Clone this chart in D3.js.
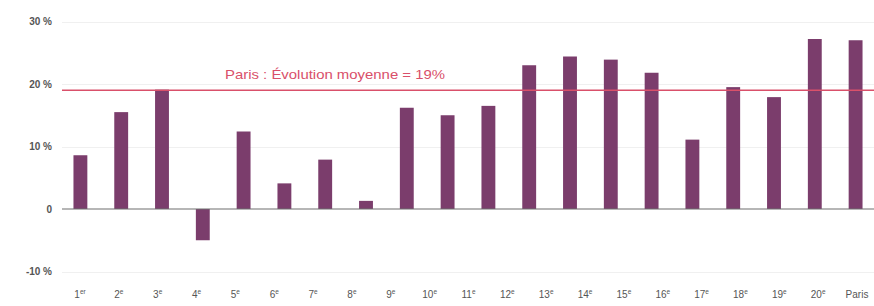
<!DOCTYPE html>
<html lang="fr">
  <head>
    <meta charset="utf-8">
    <title>Évolution par arrondissement</title>
    <style>
      body { margin: 0; background: #fff; }
      svg text { font-family: "Liberation Sans Narrow", "Liberation Sans", Arial, sans-serif; }
      .ytick { fill: #555; font-size: 10px; font-weight: bold; }
      .xtick { fill: #555; font-size: 10px; }
      .grid line { stroke: #f0f0f0; stroke-width: 1; }
    </style>
  </head>
  <body>
    <svg id="chart" width="874" height="306"></svg>
<script src="https://d3js.org/d3.v7.min.js"></script>
<script>

// labels along the axis (21) and bar values (20, as in the source picture)
var labels = [["1", "er"], ["2", "e"], ["3", "e"], ["4", "e"], ["5", "e"], ["6", "e"], ["7", "e"],
              ["8", "e"], ["9", "e"], ["10", "e"], ["11", "e"], ["12", "e"], ["13", "e"], ["14", "e"],
              ["15", "e"], ["16", "e"], ["17", "e"], ["18", "e"], ["19", "e"], ["20", "e"], ["Paris", ""]];
var values = [8.6, 15.5, 19.1, -5.0, 12.4, 4.1, 7.9, 1.3, 16.2, 15.0, 16.5, 23.0, 24.4,
              23.9, 21.8, 11.1, 19.5, 17.9, 27.2, 27.0];
var yTicks = [30, 20, 10, 0, -10];
var average = 19;
var averageLabel = "Paris : Évolution moyenne = 19%";

var barColor = "#7b3d6c";
var redColor = "#d9506a";

var svg = d3.select("#chart");

var y = d3.scaleLinear().domain([-10, 30]).range([271.5, 21.5]);

// bars spread on their own band, labels on a slightly tighter one
var xBar = d3.scaleBand()
    .domain(d3.range(values.length))
    .range([60, 876])
    .paddingInner(0.66)
    .paddingOuter(0.33);
var xLab = d3.scalePoint()
    .domain(d3.range(labels.length))
    .range([80, 857]);

// light gridlines
svg.append("g").attr("class", "grid")
  .selectAll("line")
  .data(yTicks.filter(function(d) { return d != 0; }))
  .enter().append("line")
    .attr("x1", 62).attr("x2", 874)
    .attr("y1", function(d) { return Math.round(y(d)) + 0.5; })
    .attr("y2", function(d) { return Math.round(y(d)) + 0.5; });

// y labels
svg.append("g")
  .selectAll("text")
  .data(yTicks)
  .enter().append("text")
    .attr("class", "ytick")
    .attr("x", 52)
    .attr("y", function(d) { return y(d); })
    .attr("dy", "0.35em")
    .attr("text-anchor", "end")
    .text(function(d) { return d == 0 ? "0" : d + " %"; });

// bars
svg.append("g")
  .selectAll("rect")
  .data(values)
  .enter().append("rect")
    .attr("x", function(d, i) { return xBar(i); })
    .attr("width", xBar.bandwidth())
    .attr("y", function(d) { return y(Math.max(0, d)); })
    .attr("height", function(d) { return Math.abs(y(d) - y(0)); })
    .attr("fill", barColor);

// zero line
svg.append("line")
    .attr("x1", 62).attr("x2", 874)
    .attr("y1", y(0)).attr("y2", y(0))
    .attr("stroke", "#6f6f6f")
    .attr("stroke-width", 1.2);

// average line
svg.append("line")
    .attr("x1", 62).attr("x2", 874)
    .attr("y1", y(average)).attr("y2", y(average))
    .attr("stroke", redColor)
    .attr("stroke-width", 1.5);

svg.append("text")
    .attr("x", 335)
    .attr("y", y(average) - 11)
    .attr("text-anchor", "middle")
    .attr("fill", redColor)
    .attr("font-size", 13)
    .attr("textLength", 220)
    .attr("lengthAdjust", "spacingAndGlyphs")
    .text(averageLabel);

// x labels with superscripts
var xl = svg.append("g")
  .selectAll("text")
  .data(labels)
  .enter().append("text")
    .attr("class", "xtick")
    .attr("x", function(d, i) { return xLab(i); })
    .attr("y", 298)
    .attr("text-anchor", "middle");
xl.append("tspan").text(function(d) { return d[0]; });
xl.append("tspan")
    .attr("font-size", 6.5)
    .attr("dy", -4)
    .text(function(d) { return d[1]; });

</script>
  </body>
</html>
